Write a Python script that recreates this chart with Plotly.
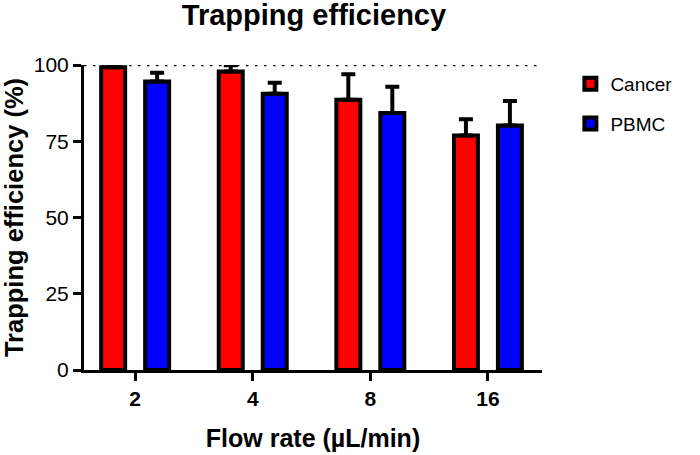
import plotly.graph_objects as go

categories = ["2", "4", "8", "16"]
cancer = [99.3, 97.9, 88.6, 76.9]
cancer_err = [0.7, 2.0, 8.4, 5.3]
pbmc = [94.6, 90.6, 84.3, 80.2]
pbmc_err = [2.9, 3.6, 8.6, 8.0]

FONT = "Arial, Liberation Sans, sans-serif"

fig = go.Figure()
fig.add_trace(go.Bar(
    x=categories, y=cancer, name="Cancer", legendgroup="c",
    marker=dict(color="#ff0000", line=dict(color="black", width=4)),
    width=0.204, offset=-0.289,
    error_y=dict(type="data", symmetric=False, array=cancer_err,
                 arrayminus=[0]*len(cancer), color="black", thickness=4, width=7),
))
fig.add_trace(go.Bar(
    x=categories, y=pbmc, name="PBMC", legendgroup="p",
    marker=dict(color="#0000ff", line=dict(color="black", width=4)),
    width=0.204, offset=0.085,
    error_y=dict(type="data", symmetric=False, array=pbmc_err,
                 arrayminus=[0]*len(pbmc), color="black", thickness=4, width=7),
))

fig.add_shape(type="line", xref="paper", yref="y", x0=0, x1=1, y0=100, y1=100,
              line=dict(color="black", width=2.5, dash="2.5px,6.5px"), layer="below")

fig.update_traces(cliponaxis=False)

fig.update_layout(
    width=700, height=455,
    barmode="overlay",
    plot_bgcolor="white", paper_bgcolor="white",
    margin=dict(l=84, r=158, t=65, b=85, autoexpand=False),
    font=dict(family=FONT, color="black"),
    title=dict(text="<b>Trapping efficiency</b>", x=314/700, xanchor="center",
               y=1 - 15/455, yanchor="middle", font=dict(size=29, family=FONT, color="black")),
    xaxis=dict(
        type="category", range=[-0.435, 3.46], automargin=False,
        showline=True, linecolor="black", linewidth=3,
        ticks="outside", ticklen=8, tickwidth=3, tickcolor="black",
        tickfont=dict(size=21, family=FONT, color="black"),
        tickprefix="<b>", ticksuffix="</b>",
        title=dict(text="<b>Flow rate (µL/min)</b>", font=dict(size=25, family=FONT, color="black"), standoff=21),
        showgrid=False, zeroline=False,
    ),
    yaxis=dict(
        range=[0, 100], tickvals=[0, 25, 50, 75, 100], automargin=False,
        showline=True, linecolor="black", linewidth=3,
        ticks="outside", ticklen=8, tickwidth=3, tickcolor="black",
        tickfont=dict(size=21, family=FONT, color="black"),
        tickprefix="<b>", ticksuffix="</b>",
        title=dict(text="<b>Trapping efficiency (%)</b>", font=dict(size=25.5, family=FONT, color="black"), standoff=13),
        showgrid=False, zeroline=False,
    ),
    legend=dict(x=1.062, y=1.0, xanchor="left", yanchor="top",
                font=dict(size=19, family=FONT, color="black"),
                tracegroupgap=12, bgcolor="rgba(0,0,0,0)"),
    showlegend=True,
)

fig.write_html("out.html", config={"displayModeBar": False},
               post_script="document.body.style.margin='0';")
